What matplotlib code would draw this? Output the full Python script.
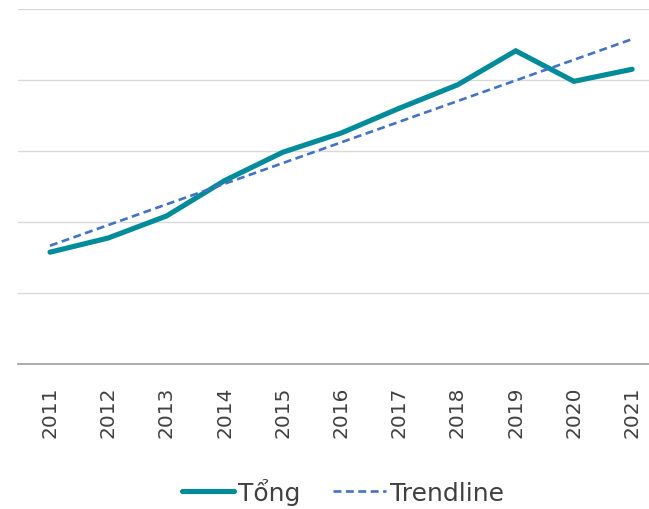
import matplotlib
matplotlib.use("Agg")
import matplotlib.pyplot as plt
import numpy as np

years = ["2011", "2012", "2013", "2014", "2015", "2016", "2017", "2018", "2019", "2020", "2021"]
tong = [15.7, 17.7, 20.8, 25.8, 29.8, 32.5, 36.0, 39.3, 44.1, 39.8, 41.5]

plt.rcParams['font.family'] = ['DejaVu Sans']

fig = plt.figure(figsize=(6.49, 5.10), dpi=100)
ax = fig.add_axes([18/649, 1-364.5/510, 1-18/649, (364.5-10)/510])

x = np.arange(len(years))
coef = np.polyfit(x, tong, 1)
trend = np.polyval(coef, x)

ax.plot(x, tong, color="#008B9A", lw=3.7, solid_capstyle="round", solid_joinstyle="miter", label="Tổng", zorder=3)
ax.plot(x, trend, color="#4472C4", lw=1.9, linestyle=(0, (3.0, 1.7)), label="Trendline", zorder=4)

ax.set_ylim(0, 50)
ax.set_xlim(-0.55, 10.29)
ax.set_yticks([0, 10, 20, 30, 40, 50])
ax.set_yticklabels([])
ax.tick_params(axis='y', length=0)
ax.grid(axis='y', color="#D9D9D9", lw=1)
ax.set_axisbelow(True)
for s in ["top", "right", "left"]:
    ax.spines[s].set_visible(False)
ax.spines["bottom"].set_color("#A6A6A6")
ax.spines["bottom"].set_linewidth(1.3)
ax.set_xticks(x)
ax.set_xticklabels(years, rotation=90, fontsize=14.5, color="#404040")
ax.tick_params(axis='x', length=0, pad=16)

fig.legend(loc="center", bbox_to_anchor=(0.528, 0.035), ncol=2, frameon=False,
           fontsize=18, labelcolor="#404040", handlelength=2.1, handletextpad=0.16,
           columnspacing=1.3)

fig.savefig("out.png", dpi=100)
